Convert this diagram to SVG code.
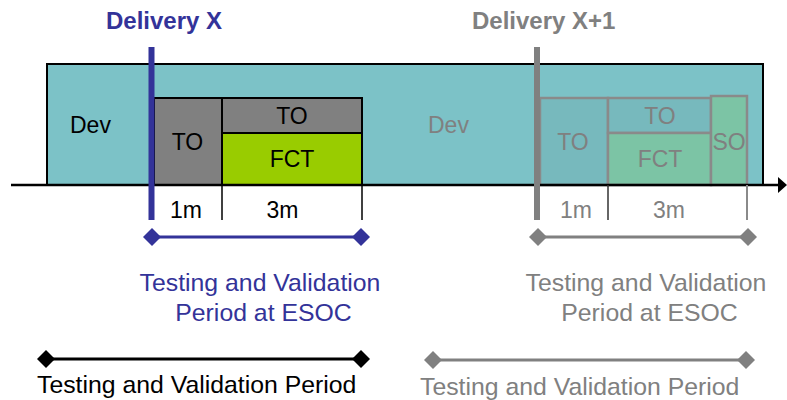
<svg xmlns="http://www.w3.org/2000/svg" width="787" height="400" viewBox="0 0 787 400">
  <style>
    text { font-family: "Liberation Sans", Arial, sans-serif; }
    .lbl { font-size: 23px; }
    .big { font-size: 24.8px; }
    .head { font-size: 24px; font-weight: bold; }
    .mid { text-anchor: middle; }
    .blue { fill: #333399; }
    .grey { fill: #808080; }
    .blk { fill: #000000; }
    .box { stroke: #000000; stroke-width: 2; }
    .gbox { stroke: #8a8a8a; stroke-width: 2.5; }
    .tick { stroke: #000000; stroke-width: 1.5; }
    .gtick { stroke: #8a8a8a; stroke-width: 2; }
  </style>
  <defs>
    <marker id="dia-blue" viewBox="-10 -10 20 20" markerWidth="20" markerHeight="20" markerUnits="userSpaceOnUse" refX="0" refY="0" orient="auto">
      <path d="M-9,0 L0,-9 L9,0 L0,9 Z" fill="#333399"/>
    </marker>
    <marker id="dia-black" viewBox="-10 -10 20 20" markerWidth="20" markerHeight="20" markerUnits="userSpaceOnUse" refX="0" refY="0" orient="auto">
      <path d="M-9,0 L0,-9 L9,0 L0,9 Z" fill="#000000"/>
    </marker>
    <marker id="dia-grey" viewBox="-10 -10 20 20" markerWidth="20" markerHeight="20" markerUnits="userSpaceOnUse" refX="0" refY="0" orient="auto">
      <path d="M-9,0 L0,-9 L9,0 L0,9 Z" fill="#808080"/>
    </marker>
  </defs>

  <!-- development band -->
  <g id="dev-band">
    <rect x="47" y="64" width="716" height="121" fill="#7cc2c7" class="box"/>
    <text x="70" y="133" class="lbl blk">Dev</text>
    <text x="428" y="133" class="lbl grey">Dev</text>
  </g>

  <!-- delivery X phases -->
  <g id="x-to">
    <rect x="154" y="98" width="68" height="87" fill="#808080" class="box"/>
    <text x="187.5" y="150" class="lbl blk mid">TO</text>
  </g>
  <g id="x-to-top">
    <rect x="222" y="98" width="140" height="35" fill="#808080" class="box"/>
    <text x="292" y="124" class="lbl blk mid">TO</text>
  </g>
  <g id="x-fct">
    <rect x="222" y="133" width="140" height="52" fill="#99cc00" class="box"/>
    <text x="292" y="167" class="lbl blk mid">FCT</text>
  </g>

  <!-- delivery X+1 phases -->
  <g id="x1-to">
    <rect x="540" y="98" width="68" height="87" fill="#77b9bd" class="gbox"/>
    <text x="573" y="150" class="lbl grey mid">TO</text>
  </g>
  <g id="x1-to-top">
    <rect x="608" y="98" width="103" height="35" fill="#77b9bd" class="gbox"/>
    <text x="660" y="124" class="lbl grey mid">TO</text>
  </g>
  <g id="x1-fct">
    <rect x="608" y="133" width="103" height="52" fill="#7cc4a5" class="gbox"/>
    <text x="660" y="167" class="lbl grey mid">FCT</text>
  </g>
  <g id="x1-so">
    <rect x="711" y="96" width="36" height="89" fill="#7cc4a5" class="gbox"/>
    <text x="729" y="150" class="lbl grey mid">SO</text>
  </g>

  <!-- connectors: time axis, ticks, delivery bars, period spans -->
  <g id="connectors">
    <line x1="11" y1="185" x2="781" y2="185" stroke="#000000" stroke-width="2.5"/>
    <polygon points="778,177 787,185 778,193" fill="#000000"/>

    <line x1="222" y1="185" x2="222" y2="220" class="tick"/>
    <line x1="362" y1="185" x2="362" y2="220" class="tick"/>
    <line x1="608" y1="185" x2="608" y2="220" stroke="#333333" stroke-width="1.5"/>
    <line x1="747" y1="185" x2="747" y2="220" class="gtick"/>

    <rect x="148.5" y="47" width="6" height="173" fill="#333399"/>
    <rect x="534" y="47" width="6" height="173" fill="#808080"/>

    <line x1="152" y1="237" x2="361" y2="237" stroke="#333399" stroke-width="3" marker-start="url(#dia-blue)" marker-end="url(#dia-blue)"/>
    <line x1="538" y1="237" x2="748" y2="237" stroke="#808080" stroke-width="3" marker-start="url(#dia-grey)" marker-end="url(#dia-grey)"/>
    <line x1="46" y1="359" x2="361" y2="359" stroke="#000000" stroke-width="3" marker-start="url(#dia-black)" marker-end="url(#dia-black)"/>
    <line x1="433" y1="360" x2="746" y2="360" stroke="#808080" stroke-width="3" marker-start="url(#dia-grey)" marker-end="url(#dia-grey)"/>
  </g>

  <!-- headings and duration labels -->
  <g id="labels">
    <text x="106" y="29" class="head blue">Delivery X</text>
    <text x="472" y="29" class="head grey">Delivery X+1</text>

    <text x="186" y="218" class="lbl blk mid">1m</text>
    <text x="282.5" y="218" class="lbl blk mid">3m</text>
    <text x="576" y="218" class="lbl grey mid">1m</text>
    <text x="669" y="218" class="lbl grey mid">3m</text>

    <text x="260" y="291" class="big blue mid">Testing and Validation</text>
    <text x="263.5" y="321" class="big blue mid">Period at ESOC</text>
    <text x="646" y="291" class="big grey mid">Testing and Validation</text>
    <text x="649.5" y="321" class="big grey mid">Period at ESOC</text>

    <text x="37" y="393" class="big blk">Testing and Validation Period</text>
    <text x="420" y="395" class="big grey">Testing and Validation Period</text>
  </g>
</svg>
